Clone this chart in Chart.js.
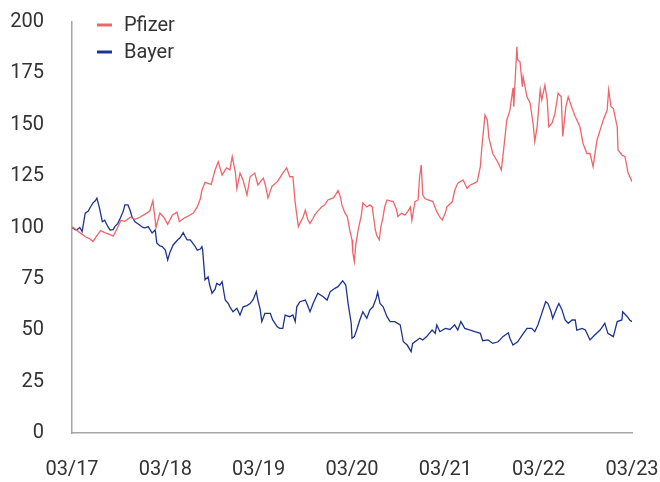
<!DOCTYPE html>
<html>
<head>
<meta charset="utf-8">
<script src="https://cdn.jsdelivr.net/npm/chart.js@4/dist/chart.umd.min.js"></script>
<style>
  html, body { margin: 0; padding: 0; background: #fff; }
  #wrap { width: 660px; height: 482px; }
</style>
</head>
<body>
<div id="wrap"><canvas id="stockChart"></canvas></div>
<script>
// Indexed share price, 03/2017 = 100. x = months since 03/17
const tickLabels = ['03/17', '03/18', '03/19', '03/20', '03/21', '03/22', '03/23'];

const pfizerMonths = [0, 0.5, 1.0, 1.7, 2.3, 2.7, 3.2, 3.7, 4.2, 4.9, 5.3, 5.8, 6.3, 6.8, 7.5, 8.1, 8.7, 9.4, 10.0, 10.4,
  10.8, 11.3, 11.8, 12.3, 12.9, 13.5, 13.8, 14.4, 14.9, 15.6, 16.1, 16.5, 16.7, 17.1, 17.5, 17.9, 18.4, 18.8, 19.3, 19.7,
  19.9, 20.3, 20.6, 21.0, 21.2, 21.6, 22.0, 22.5, 22.9, 23.5, 23.9, 24.6, 24.9, 25.2, 25.7, 26.4, 26.7, 27.1, 27.6, 28.0,
  28.4, 28.7, 29.1, 29.3, 29.7, 30.0, 30.3, 30.6, 31.0, 31.2, 31.6, 32.1, 32.5, 32.9, 33.6, 33.9, 34.2, 34.5, 34.7, 35.1,
  35.4, 35.7, 36.0, 36.1, 36.3, 36.5, 36.8, 37.2, 37.4, 37.9, 38.3, 38.6, 39.0, 39.2, 39.5, 39.7, 40.0, 40.2, 40.5, 40.9,
  41.3, 41.7, 41.9, 42.4, 42.8, 43.2, 43.5, 43.7, 44.1, 44.5, 44.7, 44.9, 45.1, 45.4, 45.8, 46.4, 46.9, 47.3, 47.6, 48.0,
  48.2, 48.9, 49.2, 49.6, 49.9, 50.3, 50.8, 51.2, 51.7, 52.1, 52.5, 52.7, 53.1, 53.4, 53.6, 54.1, 54.8, 55.2, 55.4, 55.9,
  56.3, 56.7, 56.8, 57.2, 57.3, 57.6, 57.9, 58.0, 58.5, 58.9, 59.3, 59.5, 59.8, 60.2, 60.4, 60.8, 61.1, 61.3, 61.7, 62.1,
  62.5, 62.9, 63.1, 63.5, 63.8, 64.3, 64.7, 65.3, 65.7, 66.2, 66.6, 67.0, 67.5, 67.9, 68.3, 68.8, 69.0, 69.3, 69.6, 70.1,
  70.2, 70.7, 71.1, 71.5, 72.0];
const pfizerValues = [100.3, 99, 97.5, 95.5, 94.5, 93.2, 96, 98.5, 97.5, 96.5, 95.8, 99.5, 103.5, 103, 105, 104, 105, 106.5, 108, 113,
  100, 107, 105, 101.5, 106, 107.5, 102.8, 104.5, 105.5, 107, 110, 114, 118, 122, 121.5, 121, 128, 132, 125.5, 128,
  129, 128, 134.5, 127, 119, 126.5, 123, 115.8, 124.7, 126.5, 120.7, 124, 120, 114.4, 120, 122.3, 124, 126.5, 129, 124.7,
  124.7, 112, 100.4, 102, 105, 108.5, 104, 102, 104.5, 106, 108, 110, 111, 113.4, 114.4, 116, 118, 115, 111, 107,
  105.3, 98.8, 94, 88, 83.4, 92, 99, 106, 112, 110, 111, 110, 98.8, 96, 94, 100, 105.3, 110, 113.4, 113,
  112.6, 109, 105.3, 107, 106, 108, 110, 103.6, 112.6, 113.4, 125, 130.4, 115.8, 114, 113.4, 112.6, 107.7, 105, 103.6, 107,
  110, 112.6, 118, 121.6, 122.3, 123, 119, 120.7, 121.5, 122.3, 129.6, 139.3, 154.7, 152.3, 143.6, 136, 131.4, 128, 134.5, 152.3,
  157, 168, 158.8, 188, 181.5, 180.7, 168.5, 173.4, 163.6, 160.6, 150, 141.8, 149, 167, 162, 169.3, 162, 149, 150.6, 155.5,
  165.3, 163.6, 144.3, 158.8, 163.6, 158, 154, 149, 141, 136, 136, 129.6, 142.6, 147.4, 152.3, 157, 167, 158.8, 158, 149,
  137.7, 135.3, 134.5, 126.5, 122.3];

const bayerMonths = [0, 0.4, 0.6, 1.0, 1.3, 1.7, 2.1, 2.3, 2.7, 3.0, 3.2, 3.5, 3.9, 4.2, 4.6, 4.9, 5.3, 5.5, 5.9, 6.2,
  6.6, 6.8, 7.2, 7.5, 7.7, 8.1, 8.7, 9.1, 9.4, 9.8, 10.3, 10.7, 10.9, 11.3, 11.6, 12.0, 12.3, 12.6, 13.0, 13.6,
  13.9, 14.3, 14.5, 14.8, 15.2, 15.4, 15.8, 16.1, 16.5, 16.7, 16.8, 17.1, 17.5, 17.7, 18.0, 18.4, 18.6, 19.0, 19.3, 19.7,
  20.1, 20.3, 20.7, 21.2, 21.6, 22.0, 22.5, 22.9, 23.3, 23.7, 23.9, 24.2, 24.4, 24.8, 25.5, 25.8, 26.4, 26.7, 27.1, 27.4,
  28.0, 28.4, 28.7, 28.9, 29.3, 30.0, 30.3, 30.6, 31.0, 31.6, 32.3, 32.8, 33.2, 33.8, 34.2, 34.8, 35.2, 35.5, 35.9, 36.0,
  36.3, 36.6, 37.0, 37.4, 37.9, 38.3, 38.7, 39.1, 39.3, 39.6, 40.0, 40.5, 40.9, 41.5, 42.2, 42.6, 43.1, 43.6, 43.8, 44.4,
  44.7, 45.1, 45.6, 46.3, 46.7, 46.9, 47.3, 48.0, 48.6, 49.2, 49.6, 50.0, 50.5, 51.2, 51.8, 52.5, 52.8, 53.5, 54.1, 54.8,
  55.4, 56.1, 56.3, 56.7, 57.3, 57.9, 58.5, 59.1, 59.5, 59.9, 60.4, 60.9, 61.2, 61.6, 61.8, 62.4, 62.6, 63.0, 63.4, 63.8,
  64.3, 64.7, 64.9, 65.6, 66.0, 66.6, 67.2, 67.9, 68.5, 68.9, 69.6, 70.1, 70.7, 70.8, 71.4, 71.7, 72.0];
const bayerValues = [100, 99, 98.8, 100, 98, 107, 108, 109.5, 112, 113, 114.3, 110, 102.8, 103.6, 100.5, 98.8, 99, 100.4, 102, 104.5,
  108, 111, 111, 108, 105.3, 102.8, 101.2, 100, 99.8, 100.4, 97.3, 98.8, 92.5, 91, 90.7, 89, 84.2, 88, 91.5, 94,
  95, 97.5, 96, 94, 94, 93, 91, 89, 89.5, 90.7, 89, 74.5, 76, 72, 68, 70, 72.8, 72, 73.6, 64.7,
  63, 61.4, 59, 60.7, 57.4, 61.4, 62, 63, 65, 68.8, 64.7, 60, 54.2, 58.2, 58.2, 55, 51.7, 50.9, 50.9, 57.4,
  56.6, 57.4, 54.2, 61.4, 63.9, 64.7, 62, 59, 63, 68, 66.3, 64.7, 68.8, 70.4, 71.2, 74.1, 72, 63, 53.4, 46.1,
  46.9, 50.1, 55, 59, 55.8, 59.9, 61.4, 65.5, 68.5, 63, 61.4, 56.6, 54.2, 54.2, 52.6, 44.4, 42.8, 39.6, 43.6, 45.3,
  46.1, 45.3, 46.9, 50.1, 48.5, 52.6, 49.3, 50.9, 50.4, 52.6, 50.1, 54.2, 50.9, 50.1, 49.3, 48.5, 44.9, 45.3, 43.6, 44.4,
  46.9, 48.8, 46.1, 42.8, 44.4, 47.7, 50.9, 50.9, 49.3, 52.6, 58.2, 63.9, 63, 59, 55.8, 61.4, 63, 59.9, 55, 53.4,
  55, 55, 50.1, 50.9, 50.1, 45.3, 47.7, 50.1, 53.4, 48.5, 46.9, 54.2, 55, 59, 56.6, 55, 54.2];

const pfizerColor = '#f0646b';
const bayerColor = '#1c348f';

function toPoints(xs, ys) {
    return xs.map((x, i) => ({ x: x, y: ys[i] }));
}

// legend drawn in the top-left corner of the plot
const cornerLegend = {
    id: 'cornerLegend',
    afterDraw(chart) {
        const ctx = chart.ctx;
        const left = chart.chartArea.left;
        ctx.save();
        ctx.font = '20px Roboto';
        ctx.textBaseline = 'middle';
        chart.data.datasets.forEach((ds, i) => {
            const y = 25 + i * 27;
            ctx.strokeStyle = ds.borderColor;
            ctx.lineWidth = 3;
            ctx.beginPath();
            ctx.moveTo(left + 25, y);
            ctx.lineTo(left + 40, y);
            ctx.stroke();
            ctx.fillStyle = '#333';
            ctx.fillText(ds.label, left + 52, y + 1);
        });
        ctx.restore();
    }
};

new Chart(document.getElementById('stockChart'), {
    type: 'line',
    data: {
        datasets: [{
            label: 'Pfizer',
            data: toPoints(pfizerMonths, pfizerValues),
            borderColor: pfizerColor,
            borderWidth: 1.3,
            pointRadius: 0
        }, {
            label: 'Bayer',
            data: toPoints(bayerMonths, bayerValues),
            borderColor: bayerColor,
            borderWidth: 1.3,
            pointRadius: 0
        }]
    },
    options: {
        responsive: true,
        maintainAspectRatio: false,
        animation: false,
        layout: { padding: { top: 22, right: 28, left: 0, bottom: 0 } },
        plugins: {
            legend: { display: false },
            tooltip: { enabled: false }
        },
        scales: {
            x: {
                type: 'linear',
                min: 0,
                max: 72,
                afterFit: (scale) => {
                    scale.height = 49;
                    scale.paddingLeft = 0;
                    scale.paddingRight = 0;
                },
                afterBuildTicks: (scale) => {
                    scale.ticks = tickLabels.map((_, i) => ({ value: i * 12 }));
                },
                ticks: {
                    autoSkip: false,
                    maxRotation: 0,
                    padding: 25,
                    color: '#333',
                    font: { family: 'Roboto', size: 20 },
                    callback: (value) => tickLabels[Math.round(value / 12)]
                },
                grid: { display: false, drawTicks: false },
                border: { color: '#a6a6a6', width: 1.5 }
            },
            y: {
                min: 0,
                max: 200,
                afterFit: (scale) => {
                    scale.width = 72;
                    scale.paddingTop = 0;
                    scale.paddingBottom = 0;
                },
                ticks: {
                    stepSize: 25,
                    padding: 28,
                    color: '#333',
                    font: { family: 'Roboto', size: 20 }
                },
                grid: { display: false, drawTicks: false },
                border: { color: '#a6a6a6', width: 1.5 }
            }
        }
    },
    plugins: [cornerLegend]
});
</script>
</body>
</html>
